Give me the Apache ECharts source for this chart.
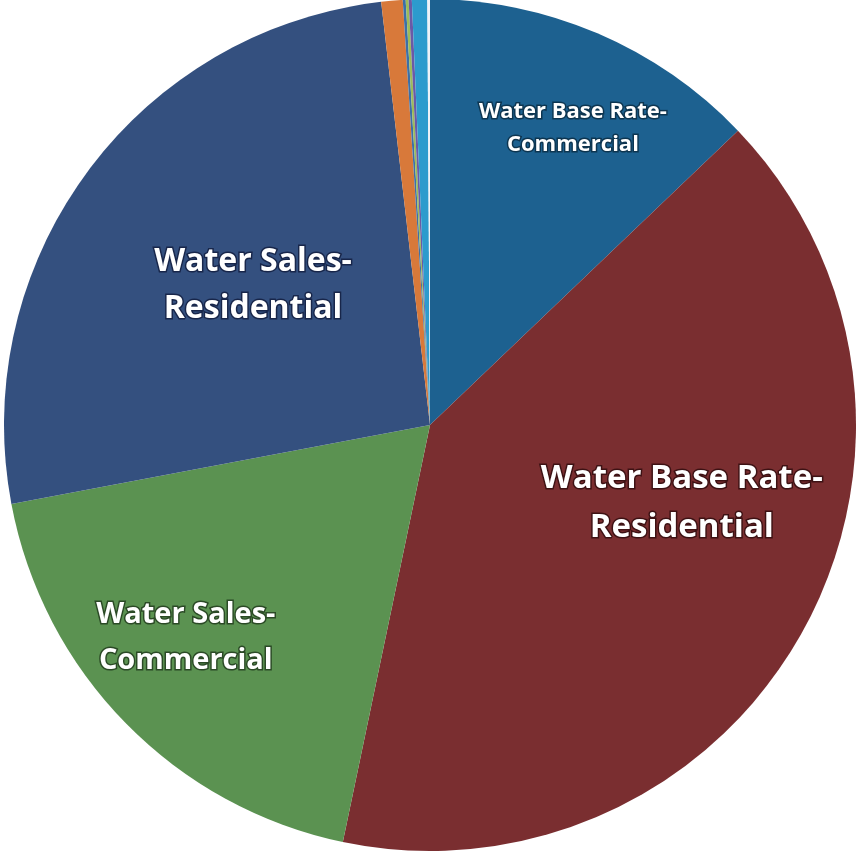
<!DOCTYPE html>
<html>
<head>
<meta charset="utf-8">
<script src="https://cdn.jsdelivr.net/npm/echarts@6/dist/echarts.min.js"></script>
<style>html,body{margin:0;padding:0;background:#fff}#c{width:859px;height:852px}</style>
</head>
<body>
<div id="c"></div>
<script>
// Slice names (clockwise from 12 o'clock)
const categories = [
  'Water Base Rate-\nCommercial',
  'Water Base Rate-\nResidential',
  'Water Sales-\nCommercial',
  'Water Sales-\nResidential',
  'Other A', 'Other B', 'Other C', 'Other D', 'Other E', 'Other F'
];
// Values (share of the pie, %)
const values = [12.86, 40.42, 18.75, 26.14, 0.81, 0.11, 0.11, 0.12, 0.58, 0.10];
const colors = ['#1d6190', '#7a2e30', '#5b9251', '#34507f', '#d8793a', '#3d6fa6', '#9cbc5a', '#6a5aa6', '#2c9bcd', '#eef3f8'];
// label styling per visible slice
const labelFont = [22, 33, 29, 32];
const labelLine = [33, 49, 46, 47];
const labelOffset = [[58, -98], [63, -27], [-90, 61], [-3, -12]];
const labelStroke = ['#0d3550', '#3d1214', '#2b4a26', '#18264a'];

const data = categories.map((name, i) => {
  const d = { name, value: values[i], itemStyle: { color: colors[i] } };
  if (i < 4) {
    d.label = {
      show: true, position: 'inside', offset: labelOffset[i],
      fontSize: labelFont[i], lineHeight: labelLine[i],
      textBorderColor: labelStroke[i], textBorderWidth: 3
    };
  } else {
    d.label = { show: false };
  }
  return d;
});

const chart = echarts.init(document.getElementById('c'));
chart.setOption({
  animation: false,
  series: [{
    type: 'pie',
    center: [430, 425],
    radius: [0, 426],
    startAngle: 90,
    clockwise: true,
    avoidLabelOverlap: false,
    label: {
      color: '#ffffff', fontFamily: 'Open Sans', fontWeight: 'bold', align: 'center'
    },
    labelLine: { show: false },
    itemStyle: { borderWidth: 0 },
    emphasis: { disabled: true },
    data
  }]
});
</script>
</body>
</html>
